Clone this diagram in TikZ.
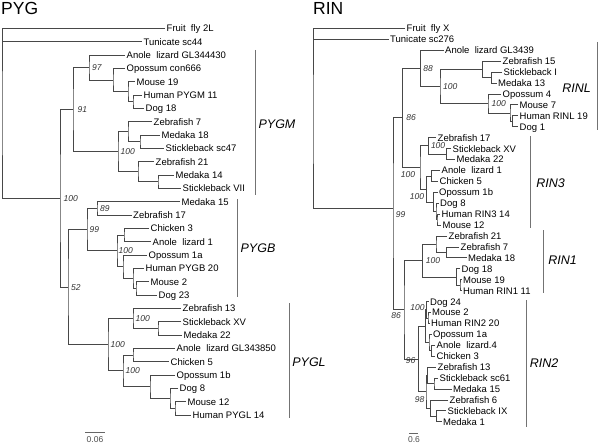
\documentclass[tikz,border=0pt]{standalone}
\usepackage{fontspec}
\setmainfont{Liberation Sans}
\begin{document}
\begin{tikzpicture}[x=1pt,y=-1pt,
  br/.style={draw=black!72, line width=0.7pt},
  leaf/.style={anchor=west, inner xsep=1.5pt, inner ysep=0pt, text height=6.8pt, text depth=0pt, font=\fontsize{9.5}{10}\selectfont},
  bs/.style={font=\fontsize{8.5}{9}\selectfont\itshape, text=black!80, inner sep=0.5pt},
  bsr/.style={bs, anchor=west},
  bar/.style={draw=black!55, line width=0.8pt},
  cl/.style={font=\fontsize{12.5}{13}\selectfont\itshape, inner sep=0pt},
  ttl/.style={font=\fontsize{17.5}{18}\selectfont, anchor=base west, inner sep=0pt},
  sc/.style={font=\fontsize{8.5}{9}\selectfont, text=black!70, inner sep=0pt}]
\useasboundingbox (0,0) rectangle (600,444);

% ---------------- PYG ----------------
\node[ttl] (tpyg) at (1,14.3) {PYG};
\node[leaf] (P1) at (165,28.3) {Fruit\ \ fly 2L};
\node[leaf] (P2) at (142,41.7) {Tunicate sc44};
\node[leaf] (P3) at (125,55) {Anole\ \ lizard GL344430};
\node[leaf] (P4) at (125,68.3) {Opossum con666};
\node[leaf] (P5) at (135,81.7) {Mouse 19};
\node[leaf] (P6) at (142,95) {Human PYGM 11};
\node[leaf] (P7) at (144,108.3) {Dog 18};
\node[leaf] (P8) at (152,121.7) {Zebrafish 7};
\node[leaf] (P9) at (160,135) {Medaka 18};
\node[leaf] (P10) at (164,148.3) {Stickleback sc47};
\node[leaf] (P11) at (154,161.7) {Zebrafish 21};
\node[leaf] (P12) at (174,175) {Medaka 14};
\node[leaf] (P13) at (181,188.3) {Stickleback VII};
\node[leaf] (P14) at (180,201.7) {Medaka 15};
\node[leaf] (P15) at (131.5,215) {Zebrafish 17};
\node[leaf] (P16) at (149,228.3) {Chicken 3};
\node[leaf] (P17) at (151,241.7) {Anole\ \ lizard 1};
\node[leaf] (P18) at (147,255) {Opossum 1a};
\node[leaf] (P19) at (144,268.3) {Human PYGB 20};
\node[leaf] (P20) at (149,281.7) {Mouse 2};
\node[leaf] (P21) at (157,295) {Dog 23};
\node[leaf] (P22) at (181,308.3) {Zebrafish 13};
\node[leaf] (P23) at (181,321.7) {Stickleback XV};
\node[leaf] (P24) at (182,335) {Medaka 22};
\node[leaf] (P25) at (175,348.3) {Anole\ \ lizard GL343850};
\node[leaf] (P26) at (169,361.7) {Chicken 5};
\node[leaf] (P27) at (175,375) {Opossum 1b};
\node[leaf] (P28) at (178,388.3) {Dog 8};
\node[leaf] (P29) at (186,401.7) {Mouse 12};
\node[leaf] (P30) at (191,415) {Human PYGL 14};

\coordinate (proot) at (2,113);
\coordinate (pv) at (60,198.35);
\coordinate (pm) at (73,109.6);
\coordinate (pma) at (89,67.5);
\coordinate (pmo) at (113,80);
\coordinate (pmm) at (128,91.7);
\coordinate (pmhd) at (133,101.65);
\coordinate (pf) at (118,151.7);
\coordinate (pf1) at (128,131.7);
\coordinate (pf1b) at (140,141.65);
\coordinate (pf2) at (138,171.7);
\coordinate (pf2b) at (158,181.65);
\coordinate (pbl) at (68,287.1);
\coordinate (pb) at (87,229.6);
\coordinate (pb1) at (97,208.35);
\coordinate (pb2) at (117,250.8);
\coordinate (pbca) at (124,235);
\coordinate (pbm) at (123,266.65);
\coordinate (pbm2) at (133,278.3);
\coordinate (pbm3) at (136,288.35);
\coordinate (pl) at (108,344.55);
\coordinate (pl1) at (133,318.3);
\coordinate (pl1b) at (158,328.35);
\coordinate (pl2) at (123,370.8);
\coordinate (pl2a) at (133,355);
\coordinate (pl2m) at (150,386.65);
\coordinate (pl2m2) at (170,398.3);
\coordinate (pl2m3) at (175,408.35);

\draw[br] (P1.west) -| (proot) |- (pv);
\draw[br] (proot |- P2.west) -- (P2.west);
\draw[br] (pm) -| (pv) |- (pbl);
\draw[br] (pma) -| (pm) |- (pf);
\draw[br] (P3.west) -| (pma) |- (pmo);
\draw[br] (P4.west) -| (pmo) |- (pmm);
\draw[br] (P5.west) -| (pmm) |- (pmhd);
\draw[br] (P6.west) -| (pmhd) |- (P7.west);
\draw[br] (pf1) -| (pf) |- (pf2);
\draw[br] (P8.west) -| (pf1) |- (pf1b);
\draw[br] (P9.west) -| (pf1b) |- (P10.west);
\draw[br] (P11.west) -| (pf2) |- (pf2b);
\draw[br] (P12.west) -| (pf2b) |- (P13.west);
\draw[br] (pb) -| (pbl) |- (pl);
\draw[br] (pb1) -| (pb) |- (pb2);
\draw[br] (P14.west) -| (pb1) |- (P15.west);
\draw[br] (pbca) -| (pb2) |- (pbm);
\draw[br] (P16.west) -| (pbca) |- (P17.west);
\draw[br] (P18.west) -| (pbm) |- (pbm2);
\draw[br] (P19.west) -| (pbm2) |- (pbm3);
\draw[br] (P20.west) -| (pbm3) |- (P21.west);
\draw[br] (pl1) -| (pl) |- (pl2);
\draw[br] (P22.west) -| (pl1) |- (pl1b);
\draw[br] (P23.west) -| (pl1b) |- (P24.west);
\draw[br] (pl2a) -| (pl2) |- (pl2m);
\draw[br] (P25.west) -| (pl2a) |- (P26.west);
\draw[br] (P27.west) -| (pl2m) |- (pl2m2);
\draw[br] (P28.west) -| (pl2m2) |- (pl2m3);
\draw[br] (P29.west) -| (pl2m3) |- (P30.west);

\node[bsr] (pb01) at ([xshift=2.5pt]pma) {97};
\node[bsr] (pb02) at ([xshift=4pt]pm) {91};
\node[bsr] (pb03) at ([xshift=2pt]pf) {100};
\node[bsr] (pb04) at ([xshift=3pt]pv) {100};
\node[bsr] (pb05) at ([xshift=2.5pt]pb1) {89};
\node[bsr] (pb06) at ([xshift=2pt]pb) {99};
\node[bsr] (pb07) at ([xshift=1pt]pb2) {100};
\node[bsr] (pb08) at ([xshift=2.5pt]pbl) {52};
\node[bsr] (pb09) at ([xshift=2pt]pl1) {100};
\node[bsr] (pb10) at ([xshift=2pt]pl) {100};
\node[bsr] (pb11) at ([xshift=2pt]pl2) {100};

\draw[bar] (255,50) -- (255,195);
\draw[bar] (237,199) -- (237,297);
\draw[bar] (289,303) -- (289,418);
\node[cl] (cpygm) at (277,124) {PYGM};
\node[cl] (cpygb) at (258,248.3) {PYGB};
\node[cl] (cpygl) at (309,361.7) {PYGL};

\coordinate (ps1) at (85,432);
\coordinate (ps2) at (105,432);
\draw[draw=black!60, line width=0.6pt] (ps1) -- (ps2);
\node[sc] (psl) at (95,439.5) {0.06};

% ---------------- RIN ----------------
\node[ttl] (trin) at (313,14.3) {RIN};
\node[leaf] (R1) at (405,28.3) {Fruit\ \ fly X};
\node[leaf] (R2) at (388.5,39.2) {Tunicate sc276};
\node[leaf] (R3) at (443.5,50.2) {Anole\ \ lizard GL3439};
\node[leaf] (R4) at (501,61.1) {Zebrafish 15};
\node[leaf] (R5) at (502,72.0) {Stickleback I};
\node[leaf] (R6) at (496.5,83.0) {Medaka 13};
\node[leaf] (R7) at (501,93.9) {Opossum 4};
\node[leaf] (R8) at (518,104.8) {Mouse 7};
\node[leaf] (R9) at (518,115.7) {Human RINL 19};
\node[leaf] (R10) at (518,126.7) {Dog 1};
\node[leaf] (R11) at (436,137.6) {Zebrafish 17};
\node[leaf] (R12) at (451,148.6) {Stickleback XV};
\node[leaf] (R13) at (455,159.5) {Medaka 22};
\node[leaf] (R14) at (440,170.4) {Anole\ \ lizard 1};
\node[leaf] (R15) at (438,181.3) {Chicken 5};
\node[leaf] (R16) at (437.5,192.3) {Opossum 1b};
\node[leaf] (R17) at (438.5,203.2) {Dog 8};
\node[leaf] (R18) at (440,214.1) {Human RIN3 14};
\node[leaf] (R19) at (441,225.0) {Mouse 12};
\node[leaf] (R20) at (447,236.0) {Zebrafish 21};
\node[leaf] (R21) at (459,246.9) {Zebrafish 7};
\node[leaf] (R22) at (466.5,257.8) {Medaka 18};
\node[leaf] (R23) at (460,268.8) {Dog 18};
\node[leaf] (R24) at (461.5,279.7) {Mouse 19};
\node[leaf] (R25) at (461.5,290.6) {Human RIN1 11};
\node[leaf] (R26) at (428.5,301.6) {Dog 24};
\node[leaf] (R27) at (430.5,312.5) {Mouse 2};
\node[leaf] (R28) at (429.5,323.4) {Human RIN2 20};
\node[leaf] (R29) at (431.5,334.3) {Opossum 1a};
\node[leaf] (R30) at (435,345.3) {Anole\ \ lizard.4};
\node[leaf] (R31) at (435,356.2) {Chicken 3};
\node[leaf] (R32) at (436,367.1) {Zebrafish 13};
\node[leaf] (R33) at (438,378.1) {Stickleback sc61};
\node[leaf] (R34) at (451.5,389.0) {Medaka 15};
\node[leaf] (R35) at (448,399.9) {Zebrafish 6};
\node[leaf] (R36) at (446,410.8) {Stickleback IX};
\node[leaf] (R37) at (441.5,421.8) {Medaka 1};

\coordinate (rroot) at (313,120);
\coordinate (rv) at (393,208);
\coordinate (u2) at (402.7,117.8);
\coordinate (ra) at (420.7,68.3);
\coordinate (rb) at (440,86.4);
\coordinate (rf1) at (482.7,69.3);
\coordinate (rf1b) at (491.7,77.5);
\coordinate (rm1) at (488,103.45);
\coordinate (rm2) at (510,113);
\coordinate (rm3) at (512.3,121.2);
\coordinate (n3) at (420,167.3);
\coordinate (rz) at (428.3,145.8);
\coordinate (rzb) at (446.7,154.05);
\coordinate (rt) at (426.7,188.85);
\coordinate (rac) at (431.7,175.85);
\coordinate (ro) at (433.3,201.85);
\coordinate (rp) at (436,211.4);
\coordinate (rq) at (437,219.55);
\coordinate (rl) at (404,309.75);
\coordinate (n1) at (422.7,260.6);
\coordinate (rfa) at (436,244.2);
\coordinate (rfb) at (446.7,252.35);
\coordinate (rma) at (456.7,277);
\coordinate (rmb) at (460,285.15);
\coordinate (n2) at (418.3,358.9);
\coordinate (rtt) at (425.5,326.15);
\coordinate (rmm) at (426.7,309.8);
\coordinate (rmh) at (428,317.95);
\coordinate (rs) at (429,342.5);
\coordinate (rac2) at (431.7,350.75);
\coordinate (rff) at (426,391.7);
\coordinate (rzs) at (427.7,375.3);
\coordinate (rsm) at (434,383.55);
\coordinate (rzm) at (430.7,408.1);
\coordinate (rsi) at (436.7,416.3);

\draw[br] (R1.west) -| (rroot) |- (rv);
\draw[br] (rroot |- R2.west) -- (R2.west);
\draw[br] (u2) -| (rv) |- (rl);
\draw[br] (ra) -| (u2) |- (n3);
\draw[br] (R3.west) -| (ra) |- (rb);
\draw[br] (rf1) -| (rb) |- (rm1);
\draw[br] (R4.west) -| (rf1) |- (rf1b);
\draw[br] (R5.west) -| (rf1b) |- (R6.west);
\draw[br] (R7.west) -| (rm1) |- (rm2);
\draw[br] (R8.west) -| (rm2) |- (rm3);
\draw[br] (R9.west) -| (rm3) |- (R10.west);
\draw[br] (rz) -| (n3) |- (rt);
\draw[br] (R11.west) -| (rz) |- (rzb);
\draw[br] (R12.west) -| (rzb) |- (R13.west);
\draw[br] (rac) -| (rt) |- (ro);
\draw[br] (R14.west) -| (rac) |- (R15.west);
\draw[br] (R16.west) -| (ro) |- (rp);
\draw[br] (R17.west) -| (rp) |- (rq);
\draw[br] (R18.west) -| (rq) |- (R19.west);
\draw[br] (n1) -| (rl) |- (n2);
\draw[br] (rfa) -| (n1) |- (rma);
\draw[br] (R20.west) -| (rfa) |- (rfb);
\draw[br] (R21.west) -| (rfb) |- (R22.west);
\draw[br] (R23.west) -| (rma) |- (rmb);
\draw[br] (R24.west) -| (rmb) |- (R25.west);
\draw[br] (rtt) -| (n2) |- (rff);
\draw[br] (rmm) -| (rtt) |- (rs);
\draw[br] (R26.west) -| (rmm) |- (rmh);
\draw[br] (R27.west) -| (rmh) |- (R28.west);
\draw[br] (R29.west) -| (rs) |- (rac2);
\draw[br] (R30.west) -| (rac2) |- (R31.west);
\draw[br] (rzs) -| (rff) |- (rzm);
\draw[br] (R32.west) -| (rzs) |- (rsm);
\draw[br] (R33.west) -| (rsm) |- (R34.west);
\draw[br] (R35.west) -| (rzm) |- (rsi);
\draw[br] (R36.west) -| (rsi) |- (R37.west);

\node[bsr] (rb01) at ([xshift=2pt]ra) {88};
\node[bsr] (rb02) at ([xshift=2.5pt]rb) {100};
\node[bsr] (rb03) at ([xshift=3pt]rm1) {100};
\node[bsr] (rb04) at ([xshift=3pt]u2) {86};
\node[bsr] (rb05) at ([xshift=2pt]rz) {100};
\node[bs] (rb06) at (400.5,215) {99};
\node[bsr] (rb07) at ([xshift=2.5pt]n1) {100};
\node[bs] (rb08) at (408,175) {100};
\node[bs] (rb09) at (417,197) {100};
\node[bs] (rb10) at (396,316) {86};
\node[bs] (rb11) at (417.5,308) {100};
\node[bs] (rb12) at (410.5,361) {96};
\node[bs] (rb13) at (419.5,400) {98};

\draw[bar] (597.5,42) -- (597.5,130);
\draw[bar] (530,136) -- (530,228);
\draw[bar] (543,230) -- (543,293);
\draw[bar] (526,300) -- (526,427);
\node[cl] (crinl) at (576.5,88.3) {RINL};
\node[cl] (crin3) at (550.5,182.7) {RIN3};
\node[cl] (crin1) at (562.5,260) {RIN1};
\node[cl] (crin2) at (544,362.7) {RIN2};

\coordinate (rs1) at (409,433);
\coordinate (rs2) at (418,433);
\draw[draw=black!60, line width=0.6pt] (rs1) -- (rs2);
\node[sc] (rsl) at (414,440) {0.6};
\end{tikzpicture}
\end{document}
